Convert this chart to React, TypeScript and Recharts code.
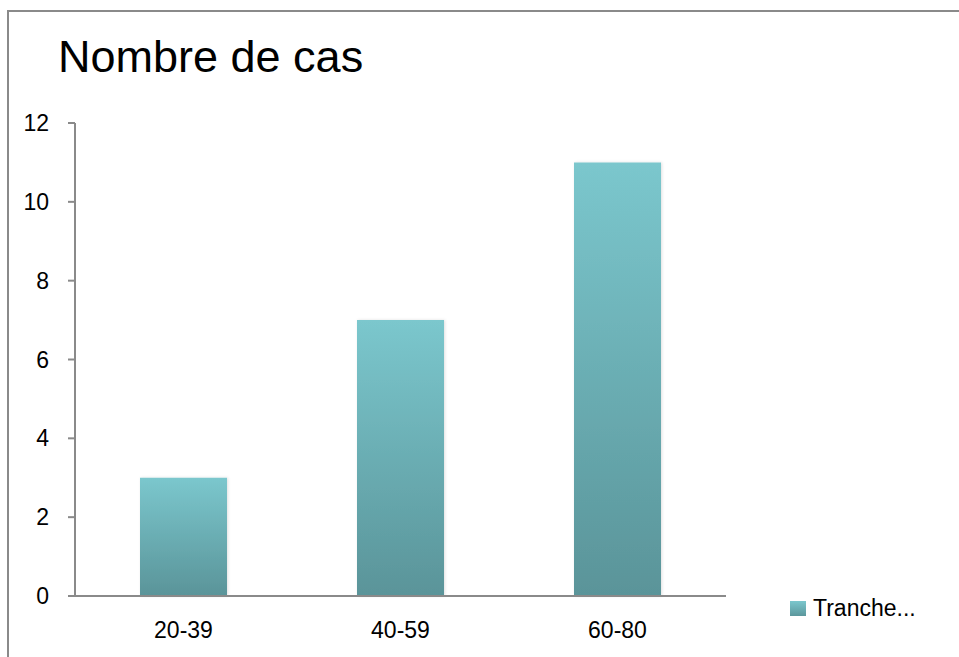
import { BarChart, Bar, XAxis, YAxis, Legend } from 'recharts'

const categories = ['20-39', '40-59', '60-80']
const cases = [3, 7, 11]
const yTicks = [0, 2, 4, 6, 8, 10, 12]
const seriesName = 'Tranche...'

const data = categories.map((name, i) => ({ name, value: cases[i] }))

const FONT = '"Liberation Sans", Arial, sans-serif'
const AXIS = '#8a8a8a'

function LegendBox() {
  return (
    <div style={{ display: 'flex', alignItems: 'center', fontFamily: FONT, fontSize: 23, lineHeight: '23px', color: '#000' }}>
      <span
        style={{
          display: 'inline-block',
          width: 16,
          height: 15,
          marginRight: 7,
          background: 'linear-gradient(#7bc7cd, #5c979c)',
        }}
      />
      <span>{seriesName}</span>
    </div>
  )
}

export default function App() {
  return (
    <div style={{ position: 'relative', width: 959, height: 657, overflow: 'hidden', background: '#fff' }}>
      <style>{'body { margin: 0; }'}</style>
      {/* frame: only its top and left edges fall inside the view */}
      <div
        style={{
          position: 'absolute',
          left: 7,
          top: 10,
          width: 1200,
          height: 1200,
          borderLeft: `2px solid ${AXIS}`,
          borderTop: `2px solid ${AXIS}`,
        }}
      />
      <div
        style={{
          position: 'absolute',
          left: 58,
          top: 34,
          fontFamily: FONT,
          fontSize: 45,
          lineHeight: '45px',
          color: '#000',
          whiteSpace: 'nowrap',
        }}
      >
        Nombre de cas
      </div>
      <div style={{ position: 'absolute', left: 0, top: 0 }}>
        <BarChart width={959} height={657} data={data} margin={{ top: 123, right: 93, bottom: 0, left: 0 }}>
          <defs>
            <linearGradient id="barFill" x1="0" y1="0" x2="0" y2="1">
              <stop offset="0%" stopColor="#7bc7cd" />
              <stop offset="100%" stopColor="#5a9499" />
            </linearGradient>
            <filter id="barShadow" x="-10%" y="-10%" width="120%" height="120%">
              <feDropShadow dx="1" dy="0" stdDeviation="1.5" floodColor="#000" floodOpacity="0.12" />
            </filter>
          </defs>
          <XAxis
            dataKey="name"
            height={61}
            tickLine={false}
            tickSize={0}
            tickMargin={26}
            axisLine={{ stroke: AXIS, strokeWidth: 2 }}
            tick={{ fill: '#000', fontSize: 23, fontFamily: FONT }}
          />
          <YAxis
            width={75}
            domain={[0, 12]}
            ticks={yTicks}
            interval={0}
            tickSize={7}
            tickMargin={19}
            axisLine={{ stroke: AXIS, strokeWidth: 2 }}
            tickLine={{ stroke: AXIS, strokeWidth: 2 }}
            tick={{ fill: '#000', fontSize: 23, fontFamily: FONT }}
          />
          <Legend
            layout="vertical"
            align="right"
            verticalAlign="bottom"
            content={() => <LegendBox />}
            wrapperStyle={{ left: 790, top: 597, width: 140, bottom: 'auto', right: 'auto' }}
          />
          <Bar
            dataKey="value"
            name={seriesName}
            barSize={87}
            fill="url(#barFill)"
            filter="url(#barShadow)"
            isAnimationActive={false}
          />
        </BarChart>
      </div>
    </div>
  )
}
